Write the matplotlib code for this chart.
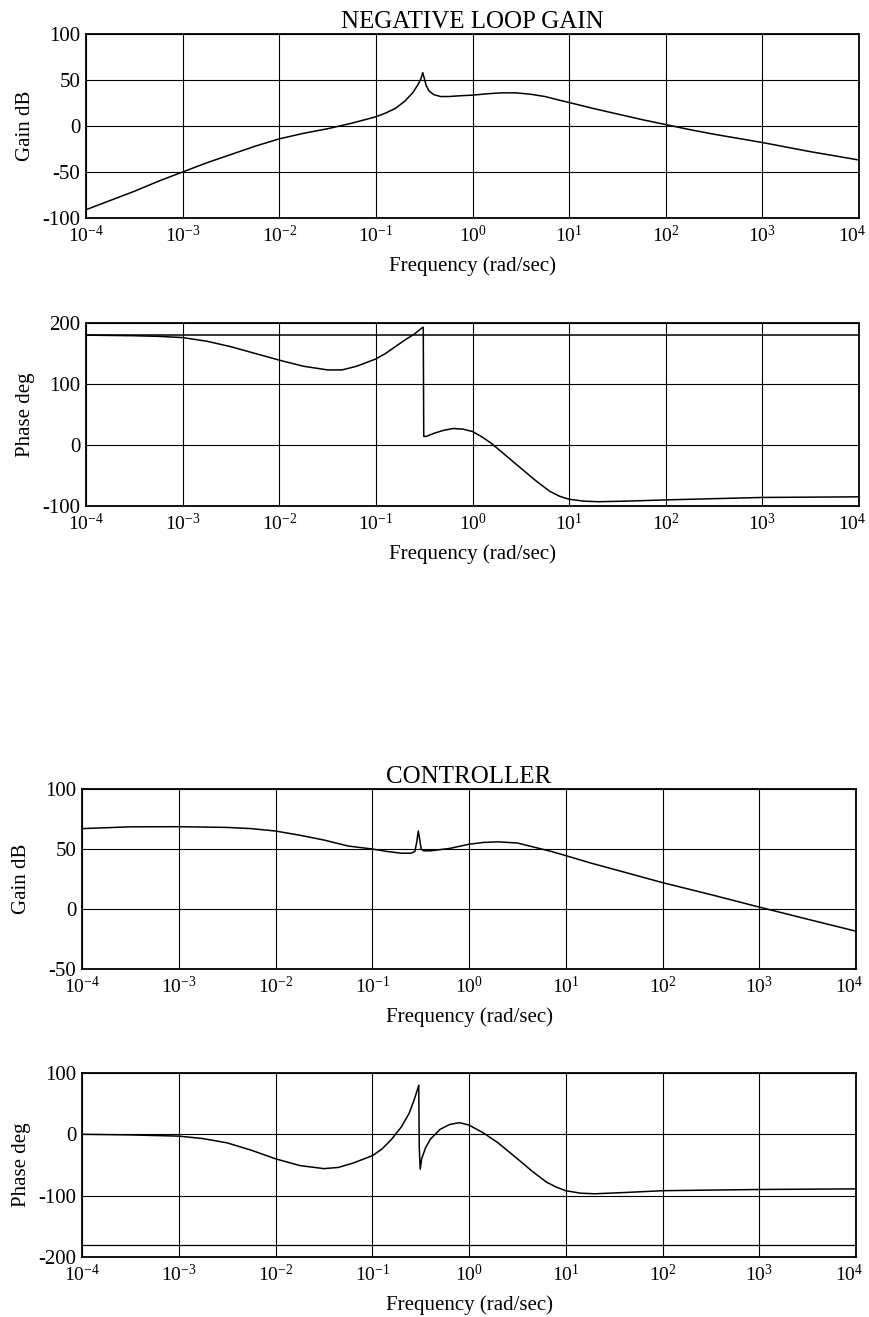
import numpy as np
from matplotlib import pyplot as plt
import matplotlib.transforms as mtransforms

plt.rcParams['font.family'] = ['Liberation Serif', 'DejaVu Serif']
plt.rcParams['mathtext.fontset'] = 'custom'
plt.rcParams['mathtext.rm'] = 'Liberation Serif'
plt.rcParams['mathtext.it'] = 'Liberation Serif:italic'
plt.rcParams['axes.unicode_minus'] = False
plt.rcParams['font.size'] = 15

# negative loop gain - frequency exponents (log10 rad/sec) and gain dB
loop_gain_exp = [-4, -3.75, -3.5, -3.25, -3, -2.75, -2.5, -2.25, -2, -1.75, -1.5, -1.25,
                 -1, -0.9, -0.8, -0.7, -0.62, -0.57, -0.535, -0.515, -0.5, -0.48, -0.45,
                 -0.4, -0.33, -0.25, -0.1, 0, 0.15, 0.3, 0.45, 0.6, 0.75, 0.9, 1, 1.25,
                 1.5, 1.75, 2, 2.25, 2.5, 2.75, 3, 3.5, 4]
loop_gain_db = [-91, -81, -71, -60, -50, -40, -31, -22, -14, -8, -3, 3,
                10, 14, 19, 27, 36, 44, 51, 58, 52, 44, 38,
                34, 32, 32, 33, 33.5, 35, 36, 36, 34.5, 32, 28, 25.5, 19,
                13, 7, 1.5, -4, -9, -13.5, -18, -28, -37]

# negative loop gain - phase deg
loop_phase_exp = [-4, -3.5, -3.25, -3, -2.75, -2.5, -2.25, -2, -1.75, -1.5, -1.35, -1.2,
                  -1, -0.9, -0.8, -0.7, -0.6, -0.53, -0.51, -0.505, -0.48, -0.4, -0.3,
                  -0.2, -0.1, 0, 0.1, 0.2, 0.35, 0.5, 0.65, 0.8, 0.9, 1, 1.15, 1.3,
                  1.6, 2, 2.5, 3, 4]
loop_phase_deg = [180, 179, 178, 176, 170, 161, 150, 139, 129, 123, 123, 129,
                  141, 150, 161, 172, 182, 191, 193, 14, 14, 19, 24,
                  27, 26, 22, 13, 2, -18, -38, -58, -76, -84, -89, -92, -93,
                  -92, -90, -88, -86, -85]

# controller - gain dB
ctrl_gain_exp = [-4, -3.5, -3, -2.5, -2.25, -2, -1.75, -1.5, -1.25, -1, -0.85, -0.7,
                 -0.6, -0.56, -0.54, -0.525, -0.51, -0.495, -0.47, -0.4, -0.2, 0, 0.15,
                 0.3, 0.5, 0.7, 0.85, 1, 1.25, 1.5, 1.75, 2, 2.5, 3, 3.5, 4]
ctrl_gain_db = [67, 68.5, 68.6, 68, 67, 65, 61.5, 57.5, 52.5, 50, 48, 46.5,
                46.5, 48, 56, 65, 58, 50, 48.5, 48.5, 50.5, 54, 55.5,
                56, 55, 51, 48, 44.5, 38.5, 33, 27.5, 22, 12, 1.6, -8.5, -18.5]

# controller - phase deg
ctrl_phase_exp = [-4, -3.5, -3, -2.75, -2.5, -2.25, -2, -1.75, -1.5, -1.35, -1.2, -1,
                  -0.9, -0.8, -0.7, -0.62, -0.57, -0.535, -0.52, -0.515, -0.505, -0.49,
                  -0.45, -0.4, -0.3, -0.2, -0.1, 0, 0.15, 0.3, 0.5, 0.65, 0.8, 0.9, 1,
                  1.15, 1.3, 1.6, 2, 3, 4]
ctrl_phase_deg = [0, -1, -3, -7, -14, -26, -40, -51, -56, -54, -47, -35,
                  -24, -8, 12, 34, 55, 72, 80, -20, -57, -40,
                  -22, -8, 8, 16, 19, 15, 2, -14, -40, -60, -78, -86, -92,
                  -96, -97, -95, -92, -90, -89]

xticks = [1e-4, 1e-3, 1e-2, 1e-1, 1e0, 1e1, 1e2, 1e3, 1e4]
xlabels = [r'$10^{%d}$' % k for k in range(-4, 5)]


def setup(ax, ylim, yticks, ylabel):
    ax.set_xscale('log')
    ax.set_xlim(1e-4, 1e4)
    ax.set_ylim(*ylim)
    ax.set_xticks(xticks)
    ax.set_xticklabels(xlabels)
    ax.xaxis.set_minor_locator(plt.NullLocator())
    ax.set_yticks(yticks)
    ax.tick_params(length=0, pad=4)
    ax.tick_params(axis='x', pad=5, labelsize=14)
    ax.grid(True, color='black', lw=0.8)
    for s in ax.spines.values():
        s.set_linewidth(1.3)
    ax.set_xlabel('Frequency (rad/sec)', labelpad=7)
    ax.set_ylabel(ylabel)
    ax.yaxis.set_label_coords(-0.066, 0.5)
    # pull the 10^4 label in a little, like the original
    last = ax.xaxis.get_major_ticks()[-1].label1
    last.set_transform(last.get_transform() +
                       mtransforms.ScaledTranslation(-0.07, 0, fig.dpi_scale_trans))


fig = plt.figure(figsize=(8.7, 13.17), dpi=100)

ax1 = fig.add_axes([0.0989, 0.8345, 0.8885, 0.1397])
ax1.plot(10.0 ** np.array(loop_gain_exp), loop_gain_db, color='black', lw=1.1)
setup(ax1, (-100, 100), [-100, -50, 0, 50, 100], 'Gain dB')
ax1.set_title('NEGATIVE LOOP GAIN', pad=4)

ax2 = fig.add_axes([0.0989, 0.6158, 0.8885, 0.139])
ax2.plot(10.0 ** np.array(loop_phase_exp), loop_phase_deg, color='black', lw=1.1)
ax2.axhline(180, color='black', lw=1.1)
setup(ax2, (-100, 200), [-100, 0, 100, 200], 'Phase deg')

ax3 = fig.add_axes([0.0943, 0.2642, 0.8897, 0.1367])
ax3.plot(10.0 ** np.array(ctrl_gain_exp), ctrl_gain_db, color='black', lw=1.1)
setup(ax3, (-50, 100), [-50, 0, 50, 100], 'Gain dB')
ax3.set_title('CONTROLLER', pad=4)

ax4 = fig.add_axes([0.0943, 0.0456, 0.8897, 0.1397])
ax4.plot(10.0 ** np.array(ctrl_phase_exp), ctrl_phase_deg, color='black', lw=1.1)
ax4.axhline(-180, color='black', lw=0.9)
setup(ax4, (-200, 100), [-200, -100, 0, 100], 'Phase deg')

plt.savefig('out.png', dpi=100)
